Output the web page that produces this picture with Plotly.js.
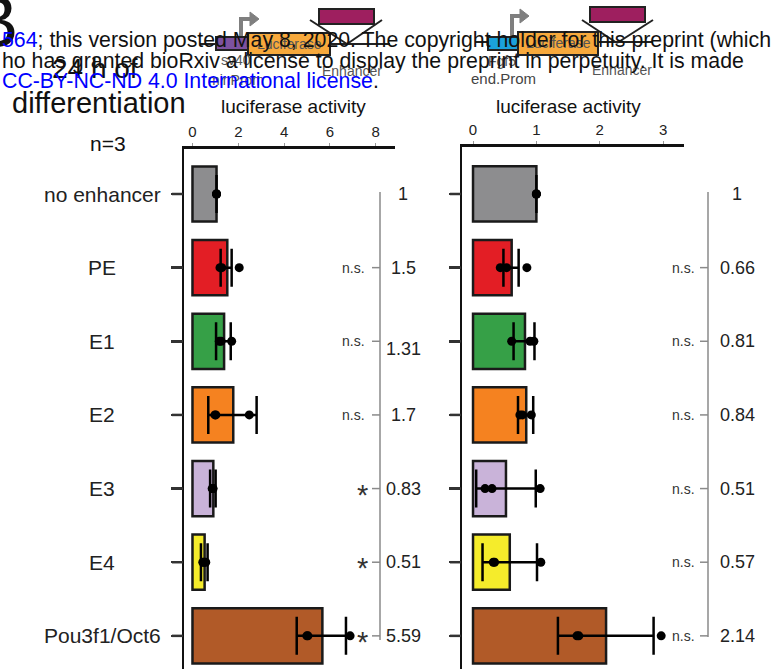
<!DOCTYPE html>
<html>
<head>
<meta charset="utf-8">
<script src="https://cdn.plot.ly/plotly-3.0.1.min.js"></script>
<style>html,body{margin:0;padding:0;background:#fff;}#chart{width:781px;height:669px;}</style>
</head>
<body>
<div id="chart"></div>
<script>
// ---- data ----
const categories = ['no enhancer', 'PE', 'E1', 'E2', 'E3', 'E4', 'Pou3f1/Oct6'];
const barColors = ['#8d8d8f', '#e31e25', '#36a047', '#f58220', '#c9b3d9', '#f5ec2b', '#b15a28'];

const leftMean    = [1.05, 1.52, 1.38, 1.78, 0.91, 0.53, 5.67];
const leftErrLow  = [1.05, 1.23, 1.03, 0.69, 0.77, 0.37, 4.55];
const leftErrHigh = [1.05, 1.71, 1.67, 2.80, 1.01, 0.66, 6.70];
const leftRep1    = [1.05, 1.20, 1.17, 0.98, 0.86, 0.45, 4.99];
const leftRep2    = [1.05, 1.28, 1.25, 1.02, 0.88, 0.50, 5.04];
const leftRep3    = [1.05, 2.04, 1.71, 2.48, 0.90, 0.58, 6.88];

const rightMean    = [1.00, 0.61, 0.82, 0.84, 0.52, 0.58, 2.10];
const rightErrLow  = [1.00, 0.48, 0.64, 0.71, 0.05, 0.15, 1.34];
const rightErrHigh = [1.00, 0.72, 0.97, 0.95, 0.99, 1.01, 2.85];
const rightRep1    = [1.00, 0.43, 0.61, 0.74, 0.19, 0.32, 1.64];
const rightRep2    = [1.00, 0.53, 0.90, 0.78, 0.30, 0.34, 1.67];
const rightRep3    = [1.00, 0.85, 0.96, 0.92, 1.06, 1.07, 2.97];

const leftFold  = ['1', '1.5', '1.31', '1.7', '0.83', '0.51', '5.59'];
const rightFold = ['1', '0.66', '0.81', '0.84', '0.51', '0.57', '2.14'];
const leftSig   = ['', 'n.s.', 'n.s.', 'n.s.', '*', '*', '*'];
const rightSig  = ['', 'n.s.', 'n.s.', 'n.s.', 'n.s.', 'n.s.', 'n.s.'];

const leftTicks  = [0, 2, 4, 6, 8];
const rightTicks = [0, 1, 2, 3];
const axisTitle = 'luciferase activity';

// ---- helpers (pixel -> paper) ----
const W = 781, H = 669;
const X = px => px / W;
const Y = py => 1 - py / H;
const FONT = 'Liberation Sans, Arial, Helvetica, sans-serif';

function barTrace(means, lo, hi, xa, ya) {
  return {
    type: 'bar', orientation: 'h', x: means, y: categories, xaxis: xa, yaxis: ya,
    width: 0.75,
    marker: {color: barColors, line: {color: '#1a1a1a', width: 2.5}},
    error_x: {
      type: 'data', symmetric: false,
      array: hi.map((h, i) => h - means[i]),
      arrayminus: lo.map((l, i) => means[i] - l),
      color: '#000', thickness: 2.5, width: 19
    },
    hoverinfo: 'none', showlegend: false
  };
}
function dotTrace(reps, xa, ya) {
  const xs = [], ys = [];
  reps.forEach(r => r.forEach((v, i) => { xs.push(v); ys.push(categories[i]); }));
  return {
    type: 'scatter', mode: 'markers', x: xs, y: ys, xaxis: xa, yaxis: ya,
    marker: {color: '#000', size: 9}, hoverinfo: 'none', showlegend: false
  };
}

const traces = [
  barTrace(leftMean, leftErrLow, leftErrHigh, 'x', 'y'),
  dotTrace([leftRep1, leftRep2, leftRep3], 'x', 'y'),
  barTrace(rightMean, rightErrLow, rightErrHigh, 'x2', 'y2'),
  dotTrace([rightRep1, rightRep2, rightRep3], 'x2', 'y2')
];

function xAxis(domain, range, ticks, anchor) {
  return {
    domain: domain, range: range, side: 'top', anchor: anchor,
    showline: true, linecolor: '#111', linewidth: 3,
    tickvals: ticks, ticktext: ticks.map(String),
    ticks: 'outside', ticklen: 3, tickwidth: 1, tickcolor: '#999',
    tickfont: {family: FONT, size: 15, color: '#222'},
    showgrid: false, zeroline: false, fixedrange: true
  };
}
function yAxis(domainTop, rangeTop, anchor) {
  return {
    domain: [0, domainTop], type: 'category', categoryarray: categories,
    range: [6.45, rangeTop], anchor: anchor,
    showline: true, linecolor: '#111', linewidth: 2.5,
    ticks: 'outside', ticklen: 11, tickwidth: 2.5, tickcolor: '#333',
    showticklabels: false, showgrid: false, zeroline: false, fixedrange: true
  };
}

// ---- shapes: schematic constructs + significance brackets ----
const shapes = [];
function line(x0, y0, x1, y1, color, width) {
  shapes.push({type: 'line', xref: 'paper', yref: 'paper', x0: X(x0), y0: Y(y0), x1: X(x1), y1: Y(y1),
    line: {color: color, width: width}});
}
function rect(x0, y0, x1, y1, fill) {
  shapes.push({type: 'rect', xref: 'paper', yref: 'paper', x0: X(x0), y0: Y(y0), x1: X(x1), y1: Y(y1),
    fillcolor: fill, line: {color: '#222', width: 2}});
}
function path(pts, close, fill, color, width) {
  let d = pts.map((p, i) => (i ? 'L' : 'M') + X(p[0]).toFixed(5) + ',' + Y(p[1]).toFixed(5)).join(' ');
  if (close) d += ' Z';
  const s = {type: 'path', xref: 'paper', yref: 'paper', path: d, line: {color: color, width: width}};
  if (fill) s.fillcolor = fill;
  shapes.push(s);
}
// left construct
line(200, 44, 390, 44, '#222', 2);
path([[241, 38], [241, 19], [251, 19]], false, null, '#7f7f7f', 4);
path([[250, 12], [259, 19], [250, 26]], true, '#7f7f7f', '#7f7f7f', 1);
rect(216, 37, 248, 50, '#7d52a0');
rect(248, 33, 330, 55, '#f7a93c');
line(310, 20, 347, 44, '#222', 2);
line(382, 20, 347, 44, '#222', 2);
rect(319, 9, 374, 24, '#9e1f5f');
// right construct
line(475, 42, 653, 42, '#222', 2);
path([[512, 37], [512, 16], [521, 16]], false, null, '#7f7f7f', 4);
path([[520, 9], [529, 16], [520, 23]], true, '#7f7f7f', '#7f7f7f', 1);
rect(488, 37, 519, 50, '#1ba1db');
rect(518, 32, 598, 55, '#f7a93c');
line(582, 20, 617, 43, '#222', 2);
line(653, 20, 617, 43, '#222', 2);
rect(590, 7, 645, 22, '#9e1f5f');
// significance brackets
line(380, 192, 380, 640, '#8a8a8a', 1.5);
line(708, 192, 708, 637, '#8a8a8a', 1.5);
categories.forEach((c, i) => {
  // category ticks on both y axes
  shapes.push({type: 'line', xref: 'paper', yref: 'y', x0: X(172), x1: X(183), y0: i, y1: i,
    line: {color: '#333', width: 2.5}});
  shapes.push({type: 'line', xref: 'paper', yref: 'y2', x0: X(450), x1: X(461), y0: i, y1: i,
    line: {color: '#333', width: 2.5}});
  if (i === 0) return;
  shapes.push({type: 'line', xref: 'paper', yref: 'y', x0: X(372), x1: X(380), y0: i, y1: i,
    line: {color: '#8a8a8a', width: 1.5}});
  shapes.push({type: 'line', xref: 'paper', yref: 'y2', x0: X(700), x1: X(708), y0: i, y1: i,
    line: {color: '#8a8a8a', width: 1.5}});
});

// ---- annotations ----
const ann = [];
function txt(text, px, py, size, color, anchor, extra) {
  ann.push(Object.assign({text: text, xref: 'paper', yref: 'paper', x: X(px), y: Y(py),
    xanchor: anchor || 'center', yanchor: 'middle', showarrow: false,
    font: {family: FONT, size: size, color: color || '#111'}}, extra || {}));
}
// construct labels
txt('Luciferase', 289, 44, 14, '#555');
txt('sv40', 236, 60, 14, '#555');
txt('minProm', 236, 80, 14, '#555');
txt('Enhancer', 352, 71, 14, '#555');
txt('Luciferase', 558, 43, 14, '#555');
txt('Fgf5', 502, 61, 14, '#555');
txt('end.Prom', 503, 78, 15, '#444');
txt('Enhancer', 622, 70, 14, '#555');
// panel letter and conditions
txt('B', 20, 22, 74, '#111', 'right');
txt('24 h of', 95, 68, 28, '#111');
txt('differentiation', 99, 103, 29, '#111');
txt('n=3', 108, 143, 21, '#111');
// axis titles
txt(axisTitle, 293, 107, 19, '#111');
txt(axisTitle, 568, 107, 19, '#111');
// preprint watermark (on top)
txt('<span style="color:#0000ff">564</span>; this version posted May 8, 2020. The copyright holder for this preprint (which', 0, 40, 21.3, '#111', 'left');
txt('ho has granted bioRxiv a license to display the preprint in perpetuity. It is made', 0, 61, 21.3, '#111', 'left');
txt('<span style="color:#0000ff">CC-BY-NC-ND 4.0 International license</span>.', 0, 81, 21.3, '#111', 'left');
// category labels, fold changes and significance
categories.forEach((c, i) => {
  ann.push({text: c, xref: 'paper', yref: 'y', x: X(102), y: i, xanchor: 'center', yanchor: 'middle',
    showarrow: false, font: {family: FONT, size: 21, color: '#222'}});
  ann.push({text: leftFold[i], xref: 'paper', yref: 'y', x: X(403), y: i, xanchor: 'center', yanchor: 'middle',
    yshift: i === 2 ? -8 : 0,
    showarrow: false, font: {family: FONT, size: 18, color: '#222'}});
  ann.push({text: rightFold[i], xref: 'paper', yref: 'y2', x: X(737), y: i, xanchor: 'center', yanchor: 'middle',
    showarrow: false, font: {family: FONT, size: 18, color: '#222'}});
  if (leftSig[i]) {
    const star = leftSig[i] === '*';
    ann.push({text: leftSig[i], xref: 'paper', yref: 'y', x: X(star ? 370 : 367), y: i, xanchor: 'right',
      yanchor: 'middle', yshift: star ? -6 : 0, showarrow: false,
      font: {family: FONT, size: star ? 29 : 14, color: '#333'}});
  }
  if (rightSig[i]) {
    ann.push({text: rightSig[i], xref: 'paper', yref: 'y2', x: X(697), y: i, xanchor: 'right',
      yanchor: 'middle', showarrow: false, font: {family: FONT, size: 14, color: '#333'}});
  }
});

const layout = {
  width: W, height: H,
  margin: {l: 0, r: 0, t: 0, b: 0, pad: 0},
  paper_bgcolor: '#fff', plot_bgcolor: 'rgba(0,0,0,0)',
  font: {family: FONT, color: '#111'},
  showlegend: false, bargap: 0.25,
  xaxis: xAxis([X(184), X(395)], [-0.37, 8.84], leftTicks, 'y'),
  yaxis: yAxis(Y(149), -0.611, 'x'),
  xaxis2: xAxis([X(462), X(684)], [-0.174, 3.33], rightTicks, 'y2'),
  yaxis2: yAxis(Y(147), -0.638, 'x2'),
  shapes: shapes,
  annotations: ann
};

Plotly.newPlot('chart', traces, layout, {displayModeBar: false, staticPlot: true});
</script>
</body>
</html>
